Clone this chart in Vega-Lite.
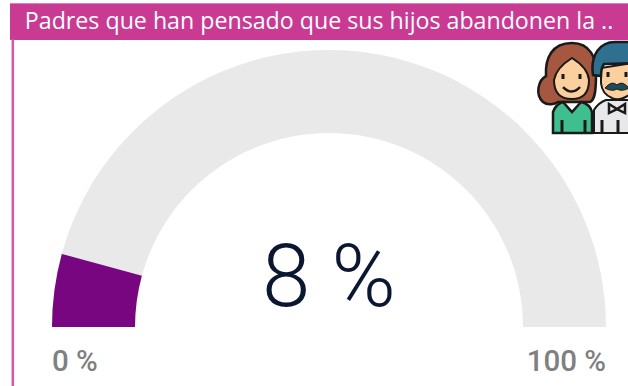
{
"$schema":"https://vega.github.io/schema/vega-lite/v6.json",
"width":628,"height":386,"padding":0,"autosize":{"type":"none"},
"background":"white",
"view":{"stroke":null},
"data":{"values":[{"title":"Padres que han pensado que sus hijos abandonen la ..","value":8.5,"label":"8 %","min":0,"max":100,"minLabel":"0 %","maxLabel":"100 %"}]},
"encoding":{
"x":{"datum":50,"type":"quantitative","scale":{"domain":[-9.386,103.97],"range":[0,628],"nice":false,"zero":false},"axis":null},
"y":{"datum":0,"type":"quantitative","scale":{"domain":[-10.65,59.03],"range":[386,0],"nice":false,"zero":false},"axis":null}
},
"layer":[
{"mark":{"type":"arc","radius":277,"radius2":194,"color":"#E9E9E9"},"encoding":{"theta":{"field":"min","type":"quantitative","scale":{"domain":[0,100],"range":[-1.5708,1.5708]}},"theta2":{"field":"max"}}},
{"mark":{"type":"arc","radius":277,"radius2":194,"color":"#770680"},"encoding":{"theta":{"field":"min","type":"quantitative","scale":{"domain":[0,100],"range":[-1.5708,1.5708]}},"theta2":{"field":"value"}}},
{"mark":{"type":"text","font":"Roboto","fontWeight":300,"fontSize":87,"color":"#0B1630","align":"center","baseline":"middle"},"encoding":{"y":{"datum":8.5,"type":"quantitative"},"text":{"field":"label"}}},
{"mark":{"type":"text","font":"Roboto","fontWeight":500,"fontSize":29.5,"color":"#808080","align":"left","baseline":"middle"},"encoding":{"x":{"datum":0,"type":"quantitative"},"y":{"datum":-6.4,"type":"quantitative"},"text":{"field":"minLabel"}}},
{"mark":{"type":"text","font":"Roboto","fontWeight":500,"fontSize":29.5,"color":"#808080","align":"right","baseline":"middle"},"encoding":{"x":{"datum":100,"type":"quantitative"},"y":{"datum":-6.4,"type":"quantitative"},"text":{"field":"maxLabel"}}},
{"mark":{"type":"rect","color":"#E07FBC"},"encoding":{"x":{"datum":-7.58,"type":"quantitative"},"x2":{"datum":104},"y":{"datum":58.5,"type":"quantitative"},"y2":{"datum":58.2}}},
{"mark":{"type":"rect","color":"#C93B93"},"encoding":{"x":{"datum":-7.58,"type":"quantitative"},"x2":{"datum":104},"y":{"datum":58.3,"type":"quantitative"},"y2":{"datum":51.8}}},
{"mark":{"type":"rect","color":"#D25AA6"},"encoding":{"x":{"datum":-7.3,"type":"quantitative"},"x2":{"datum":-6.84},"y":{"datum":52,"type":"quantitative"},"y2":{"datum":-11}}},
{"mark":{"type":"text","font":"Open Sans","fontSize":23.2,"color":"white","align":"left","baseline":"middle"},"encoding":{"x":{"datum":-4.9,"type":"quantitative"},"y":{"datum":55.05,"type":"quantitative"},"text":{"field":"title"}}},
{"encoding":{"x":{"datum":97.11,"type":"quantitative"},"y":{"datum":43.14,"type":"quantitative"}},
"layer":[
{"mark":{"type":"point","filled":true,"size":4,"opacity":1,"color":"#A5573F","stroke":"#1A1A1A","strokeWidth":2.5,"shape":"M -18 -45 C -38 -45 -45 -30 -44 -12 C -52 -8 -55 7 -47 14 C -42 18 -35 16 -32 14 L 0 14 C 5 12 6 2 6 -13 C 7 -30 0 -45 -18 -45 Z"}},
{"mark":{"type":"point","filled":true,"size":4,"opacity":1,"color":"#FCCF9F","stroke":"#1A1A1A","strokeWidth":2,"shape":"M -36 -8 Q -34 -20 -18 -30 Q -2 -20 -1 -8 Q -1 11 -18 11 Q -36 11 -36 -8 Z"}},
{"mark":{"type":"point","filled":true,"size":4,"opacity":1,"color":"#3FBF8F","stroke":"#1A1A1A","strokeWidth":2.5,"shape":"M -37 45 L -37 24 Q -34 16 -27 14 L -18 24 L -9 14 Q 0 16 2 24 L 2 45 Z"}},
{"mark":{"type":"point","filled":true,"size":4,"opacity":1,"color":"#E8E8EA","stroke":"#1A1A1A","strokeWidth":2,"shape":"M 4 45 L 4 22 Q 8 15 16 12 L 42 12 L 42 45 Z"}},
{"mark":{"type":"point","filled":true,"size":4,"opacity":1,"color":"#FCCF9F","stroke":"#1A1A1A","strokeWidth":2,"shape":"M 11 -20 L 42 -25 L 42 5 Q 30 14 22 10 Q 12 6 11 -5 Z"}},
{"mark":{"type":"point","filled":true,"size":4,"opacity":1,"color":"#2F6F8F","stroke":"#1A1A1A","strokeWidth":2.5,"shape":"M 3 -13 C 0 -33 10 -46 25 -46 L 42 -46 L 42 -25 Q 26 -24 14 -24 Q 11 -20 11 -12 Z"}},
{"mark":{"type":"point","filled":true,"size":4,"opacity":1,"color":"#1F4A5A","stroke":"#1A1A1A","strokeWidth":1,"shape":"M 15 0 Q 22 -8 27 -3 Q 32 -8 39 0 Q 32 4 27 1 Q 22 4 15 0 Z"}},
{"mark":{"type":"point","filled":false,"size":4,"opacity":1,"stroke":"#1A1A1A","strokeWidth":3,"shape":"M -27 -14 L -27 -9 M -10 -14 L -10 -9 M 18 -16 L 18 -11 M 36 -16 L 36 -11 M -28 32 L -28 45 M -5 32 L -5 45 M 12 32 L 12 45 M 28 32 L 28 45"}},
{"mark":{"type":"point","filled":false,"size":4,"opacity":1,"stroke":"#1A1A1A","strokeWidth":2.5,"shape":"M -27 -1 Q -18 8 -10 -1 M 19 16 L 27 21 L 35 16 L 35 25 L 27 21 L 19 25 Z"}}
]}
]
}
